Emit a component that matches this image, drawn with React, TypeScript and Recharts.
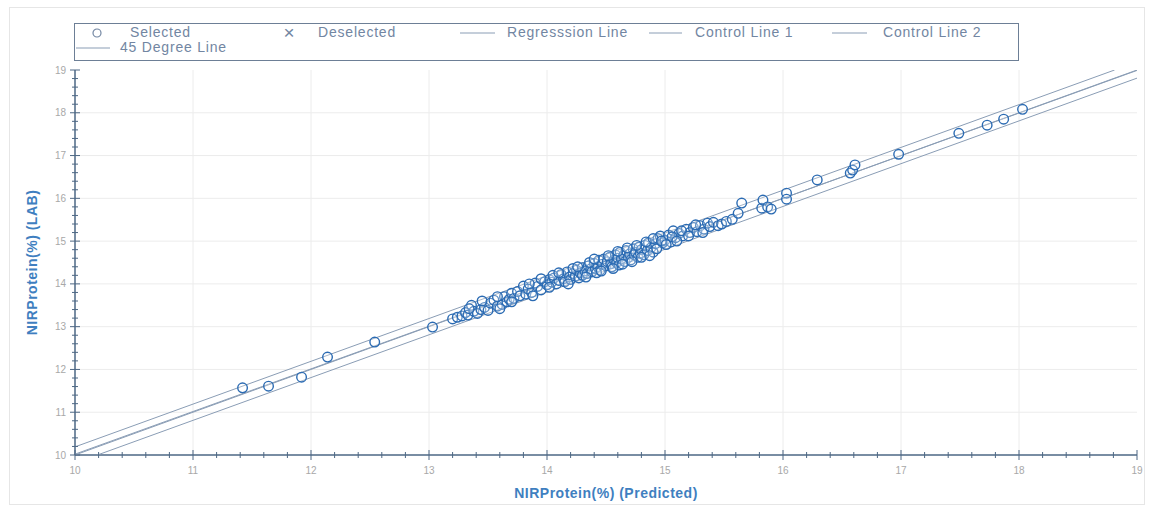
import { ScatterChart, Scatter, XAxis, YAxis, ReferenceLine, Legend, Label } from "recharts";

// axis ticks
const majorTicks = [10, 11, 12, 13, 14, 15, 16, 17, 18, 19];
const gridTicks = [11, 12, 13, 14, 15, 16, 17, 18];
const minorTicks = majorTicks.flatMap((t, i) =>
    i === majorTicks.length - 1 ? [t] : [0, 0.2, 0.4, 0.6, 0.8].map((d) => +(t + d).toFixed(1))
);

// Selected samples: [predicted, lab]
const lowPoints: [number, number][] = [
    [11.42, 11.57], [11.64, 11.61], [11.92, 11.82], [12.14, 12.29], [12.54, 12.64], [13.03, 12.99],
];

const clusterPoints: [number, number][] = [
    [13.2, 13.18], [13.24, 13.22], [13.28, 13.25], [13.31, 13.33], [13.33, 13.27], [13.36, 13.5], [13.38, 13.36],
    [13.41, 13.31], [13.44, 13.4], [13.47, 13.45], [13.5, 13.38], [13.52, 13.55], [13.55, 13.62], [13.58, 13.48],
    [13.62, 13.52], [13.64, 13.7], [13.66, 13.58], [13.68, 13.64], [13.7, 13.78], [13.72, 13.66], [13.75, 13.82],
    [13.77, 13.72], [13.8, 13.95], [13.82, 13.76], [13.84, 13.88], [13.87, 13.8], [13.9, 14.02], [13.92, 13.94],
    [13.95, 13.86], [13.98, 14.05],
    [14.0, 13.98], [14.02, 14.1], [14.04, 14.04], [14.06, 14.14], [14.08, 14.0], [14.1, 14.08], [14.12, 14.22],
    [14.14, 14.12], [14.15, 14.05], [14.17, 14.28], [14.19, 14.16], [14.2, 14.1], [14.22, 14.24], [14.24, 14.18],
    [14.25, 14.32], [14.27, 14.14], [14.28, 14.26], [14.3, 14.38], [14.3, 14.2], [14.32, 14.3],
    [14.34, 14.24], [14.35, 14.42], [14.37, 14.35], [14.38, 14.28], [14.4, 14.48], [14.41, 14.36], [14.43, 14.4],
    [14.44, 14.55], [14.45, 14.32], [14.47, 14.46], [14.48, 14.58], [14.5, 14.42], [14.51, 14.52], [14.53, 14.62],
    [14.54, 14.47], [14.55, 14.4], [14.57, 14.56], [14.58, 14.68], [14.59, 14.5], [14.6, 14.6], [14.61, 14.44],
    [14.62, 14.74],
    [14.63, 14.58], [14.65, 14.66], [14.66, 14.52], [14.67, 14.78], [14.69, 14.62], [14.7, 14.7], [14.71, 14.56],
    [14.73, 14.82], [14.74, 14.68], [14.75, 14.74], [14.77, 14.62], [14.78, 14.86], [14.79, 14.72], [14.8, 14.8],
    [14.82, 14.68], [14.83, 14.9], [14.85, 14.78], [14.86, 14.96], [14.88, 14.84], [14.9, 14.74],
    [14.92, 14.94], [14.94, 15.06], [14.96, 15.12], [14.98, 14.96], [15.0, 15.02], [15.03, 15.14], [15.05, 14.98],
    [15.07, 15.24], [15.09, 15.08], [15.12, 15.18], [15.15, 15.12], [15.18, 15.28], [15.21, 15.2], [15.24, 15.32],
    [15.27, 15.22], [15.3, 15.36], [15.33, 15.28], [15.36, 15.42],
];

const clusterSpread: [number, number][] = [
    [13.34, 13.42], [13.45, 13.6], [13.58, 13.7], [13.6, 13.42], [13.7, 13.58], [13.85, 14.0], [13.88, 13.72],
    [13.95, 14.12], [14.02, 13.92], [14.05, 14.2], [14.1, 14.26], [14.18, 14.0], [14.22, 14.36], [14.26, 14.4],
    [14.33, 14.16], [14.36, 14.5], [14.4, 14.58], [14.42, 14.26], [14.46, 14.3], [14.52, 14.66], [14.56, 14.36],
    [14.6, 14.76], [14.64, 14.46], [14.68, 14.84], [14.72, 14.52], [14.76, 14.9], [14.8, 14.62], [14.84, 14.98],
    [14.87, 14.66], [14.9, 15.06], [14.93, 14.82], [14.97, 15.0], [15.01, 14.92], [15.06, 15.1], [15.1, 15.0],
    [15.14, 15.24], [15.2, 15.12], [15.26, 15.38], [15.32, 15.2], [15.38, 15.34],
];

const highPoints: [number, number][] = [
    [15.41, 15.44], [15.45, 15.36], [15.48, 15.4], [15.52, 15.46], [15.57, 15.51], [15.62, 15.65], [15.65, 15.89],
    [15.82, 15.77], [15.83, 15.96], [15.87, 15.8], [15.9, 15.75], [16.03, 16.12], [16.03, 15.98],
    [16.29, 16.43], [16.57, 16.59], [16.59, 16.66], [16.61, 16.78], [16.98, 17.03], [17.49, 17.52],
    [17.73, 17.71], [17.87, 17.85], [18.03, 18.08],
];

const selected = [...lowPoints, ...clusterPoints, ...clusterSpread, ...highPoints].map(([x, y]) => ({ x, y }));

// reference lines (end points)
const line45 = [{ x: 10, y: 10 }, { x: 19, y: 19 }];
const regressionLine = [{ x: 10, y: 10.02 }, { x: 19, y: 18.99 }];
const controlLine1 = [{ x: 10, y: 10.19 }, { x: 18.81, y: 19 }];
const controlLine2 = [{ x: 10.19, y: 10 }, { x: 19, y: 18.81 }];

const AXIS = "#4d6784";
const LINE = "#8a9db5";
const MARK = "#2b6bb3";
const TICK_TEXT = "#a8a8a8";
const LEGEND_TEXT = "#7286a2";

const isMajor = (v: number) => Math.abs(v - Math.round(v)) < 1e-6;

function makeTick(side: "bottom" | "left" | "top" | "right") {
    return (props: any) => {
        const { x, y, payload } = props;
        const major = isMajor(payload.value);
        const len = major ? 5 : 3;
        const vertical = side === "bottom" || side === "top";
        return (
            <g>
                {vertical ? (
                    <line x1={x} x2={x} y1={y - len} y2={y + len} stroke={AXIS} strokeWidth={1} />
                ) : (
                    <line x1={x - len} x2={x + len} y1={y} y2={y} stroke={AXIS} strokeWidth={1} />
                )}
                {major && side === "bottom" && (
                    <text x={x} y={y + 19} textAnchor="middle" fontSize={10} fill={TICK_TEXT} fontFamily="Liberation Sans, Arial">
                        {payload.value}
                    </text>
                )}
                {major && side === "left" && (
                    <text x={x - 9} y={y} dy={3.5} textAnchor="end" fontSize={10} fill={TICK_TEXT} fontFamily="Liberation Sans, Arial">
                        {payload.value}
                    </text>
                )}
            </g>
        );
    };
}

const Dot = (props: any) => {
    const { cx, cy } = props;
    if (cx == null || cy == null) return <g />;
    return <circle cx={cx} cy={cy} r={4.8} fill="#ffffff" fillOpacity={0.25} stroke={MARK} strokeWidth={1.4} />;
};

const textStyle = { fontFamily: "Liberation Sans, Arial", fontSize: 14, letterSpacing: 0.8, fill: LEGEND_TEXT };

function LegendBox() {
    return (
        <svg width={945} height={38} style={{ display: "block" }}>
            <rect x={0.5} y={0.5} width={944} height={37} fill="#fff" stroke="#6d7f96" strokeWidth={1} />
            <circle cx={23} cy={10} r={4} fill="none" stroke={LEGEND_TEXT} strokeWidth={1.2} />
            <text x={56} y={14} {...textStyle}>Selected</text>
            <text x={215} y={16} textAnchor="middle" {...textStyle} fontSize={19} letterSpacing={0}>×</text>
            <text x={244} y={14} {...textStyle}>Deselected</text>
            <line x1={386} x2={421} y1={10} y2={10} stroke={LINE} />
            <text x={433} y={14} {...textStyle}>Regresssion Line</text>
            <line x1={575} x2={608} y1={10} y2={10} stroke={LINE} />
            <text x={621} y={14} {...textStyle}>Control Line 1</text>
            <line x1={758} x2={793} y1={10} y2={10} stroke={LINE} />
            <text x={809} y={14} {...textStyle}>Control Line 2</text>
            <line x1={2} x2={36} y1={25} y2={25} stroke={LINE} />
            <text x={46} y={29} {...textStyle}>45 Degree Line</text>
        </svg>
    );
}

const lineProps = { stroke: LINE, strokeWidth: 1 };

export default function App() {
    return (
        <div style={{ position: "absolute", left: 0, top: 0, width: 1149, height: 511, background: "#fff" }}>
            <div
                style={{
                    position: "absolute",
                    left: 9,
                    top: 7,
                    width: 1136,
                    height: 498,
                    border: "1px solid #e6e6e6",
                    boxSizing: "border-box",
                }}
            />
            <ScatterChart width={1149} height={511} margin={{ top: 70, right: 12, bottom: 0, left: 0 }}>
                {gridTicks.map((t) => (
                    <ReferenceLine key={"gx" + t} x={t} stroke="#ececec" strokeWidth={1} />
                ))}
                {gridTicks.map((t) => (
                    <ReferenceLine key={"gy" + t} y={t} stroke="#ececec" strokeWidth={1} />
                ))}
                <XAxis
                    type="number"
                    dataKey="x"
                    domain={[10, 19]}
                    allowDataOverflow
                    ticks={minorTicks}
                    interval={0}
                    tickSize={0}
                    tickMargin={0}
                    tickLine={false}
                    tick={makeTick("bottom")}
                    axisLine={{ stroke: AXIS, strokeWidth: 1.5 }}
                    height={56}
                >
                    <Label
                        value="NIRProtein(%) (Predicted)"
                        position="insideBottom"
                        offset={13}
                        style={{ fontFamily: "Liberation Sans, Arial", fontSize: 14, fontWeight: "bold", letterSpacing: 0.5, fill: "#3f7fc0" }}
                    />
                </XAxis>
                <XAxis
                    xAxisId="top"
                    orientation="top"
                    type="number"
                    dataKey="x"
                    domain={[10, 19]}
                    allowDataOverflow
                    ticks={minorTicks}
                    interval={0}
                    tickSize={0}
                    tickMargin={0}
                    tickLine={false}
                    tick={makeTick("top")}
                    axisLine={{ stroke: AXIS, strokeWidth: 1.5 }}
                    height={0}
                />
                <YAxis
                    type="number"
                    dataKey="y"
                    domain={[10, 19]}
                    allowDataOverflow
                    ticks={minorTicks}
                    interval={0}
                    tickSize={0}
                    tickMargin={0}
                    tickLine={false}
                    tick={makeTick("left")}
                    axisLine={{ stroke: AXIS, strokeWidth: 1.5 }}
                    width={75}
                >
                    <Label
                        content={(p: any) => {
                            const vb = p.viewBox || { x: 0, y: 70, width: 75, height: 385 };
                            const cx = vb.x + 32;
                            const cy = vb.y + vb.height / 2;
                            return (
                                <text
                                    x={cx}
                                    y={cy}
                                    transform={`rotate(-90 ${cx} ${cy})`}
                                    textAnchor="middle"
                                    dominantBaseline="central"
                                    style={{ fontFamily: "Liberation Sans, Arial", fontSize: 14, fontWeight: "bold", letterSpacing: 0.5, fill: "#3f7fc0" }}
                                >
                                    NIRProtein(%) (LAB)
                                </text>
                            );
                        }}
                    />
                </YAxis>
                <YAxis
                    yAxisId="right"
                    orientation="right"
                    type="number"
                    dataKey="y"
                    domain={[10, 19]}
                    allowDataOverflow
                    ticks={minorTicks}
                    interval={0}
                    tickSize={0}
                    tickMargin={0}
                    tickLine={false}
                    tick={makeTick("right")}
                    axisLine={{ stroke: AXIS, strokeWidth: 1.5 }}
                    width={0}
                />
                <Legend
                    layout="horizontal"
                    verticalAlign="middle"
                    align="center"
                    wrapperStyle={{ top: 23, left: 74, width: 945, height: 38 }}
                    content={() => <LegendBox />}
                />
                <Scatter name="45 Degree Line" data={line45} line={lineProps} shape={() => <g />} isAnimationActive={false} />
                <Scatter name="Regresssion Line" data={regressionLine} line={lineProps} shape={() => <g />} isAnimationActive={false} />
                <Scatter name="Control Line 1" data={controlLine1} line={lineProps} shape={() => <g />} isAnimationActive={false} />
                <Scatter name="Control Line 2" data={controlLine2} line={lineProps} shape={() => <g />} isAnimationActive={false} />
                <Scatter name="Selected" data={selected} shape={Dot} isAnimationActive={false} />
            </ScatterChart>
        </div>
    );
}
